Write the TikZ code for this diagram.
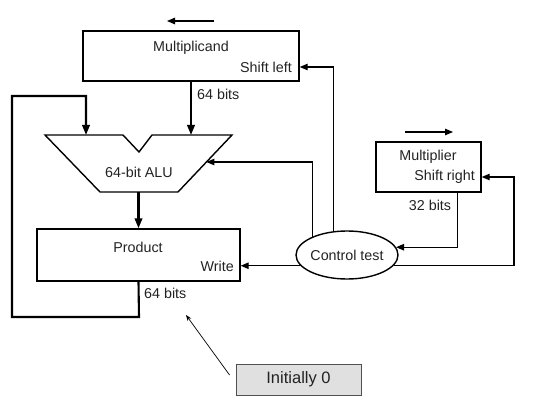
\documentclass[tikz,border=0pt]{standalone}
\usepackage{fontspec}
\setmainfont{Liberation Sans}
\usetikzlibrary{arrows.meta,shapes.geometric,calc}
\definecolor{txt}{HTML}{222222}
\definecolor{initfill}{HTML}{E0E0E0}
\definecolor{initdraw}{HTML}{505050}
\tikzset{
  lbl/.style={inner sep=0pt,text=txt,font=\fontsize{14.3}{16}\selectfont},
  reg/.style={draw,line width=1.4pt,inner sep=0pt},
  thickarrow/.style={line width=2.1pt,-{Triangle[length=10pt,width=7.5pt]}},
  ctlarrow/.style={line width=1.1pt,-{Triangle[length=8pt,width=6.5pt]}},
  notearrow/.style={line width=0.7pt,-{Stealth[length=6pt,width=4.5pt]}},
}
\begin{document}
\begin{tikzpicture}[x=1pt,y=-1pt]
\useasboundingbox (0,0) rectangle (547,404);
% registers
\node[reg,minimum width=216pt,minimum height=50pt] (mcand) at (191,56) {};
\node[reg,minimum width=203pt,minimum height=52pt] (product) at (138.5,255) {};
\node[reg,minimum width=105pt,minimum height=50pt] (mplier) at (428.5,167) {};
\node[draw,ellipse,line width=1.4pt,minimum width=102pt,minimum height=48pt,inner sep=0pt] (ctrl) at (347,255) {};
\node[draw=initdraw,line width=0.9pt,fill=initfill,minimum width=125pt,minimum height=31pt,inner sep=0pt,text=txt,font=\fontsize{16.5}{18}\selectfont] (init) at (298.5,379.5) {Initially 0};
% ALU
\draw[line width=1.4pt,line join=miter] (45,135) -- (123,135) -- (139,152) -- (152,135) -- (232,135) -- (178,192) -- (100,192) -- cycle;
\coordinate (alutop) at (139,135);
\coordinate (alubot) at (138.5,192);
\coordinate (aluR) at (206.4,162);
\node[lbl] (alulbl) at (139,172) {64-bit ALU};
% texts
\node[lbl] (t1) at (191,48) {Multiplicand};
\node[lbl,anchor=east] (t2) at (292,67) {Shift left};
\node[lbl] (t3) at (138,247) {Product};
\node[lbl,anchor=east] (t4) at (234,266) {Write};
\node[lbl] (t5) at (428,157) {Multiplier};
\node[lbl,anchor=east] (t6) at (475,177) {Shift right};
\node[lbl] (t7) at (347,255) {Control test};
\node[lbl,anchor=west] (b1) at (197,94) {64 bits};
\node[lbl,anchor=west] (b2) at (144,293) {64 bits};
\node[lbl] (b3) at (430,205) {32 bits};
% direction arrows
\coordinate (la1) at (214,21); \coordinate (la2) at (167,21);
\coordinate (ra1) at (405,132); \coordinate (ra2) at (453,132);
\draw[ctlarrow] (la1) -- (la2);
\draw[ctlarrow] (ra1) -- (ra2);
% datapath
\draw[thickarrow] (mcand.south) -- (mcand.south |- alutop);
\draw[thickarrow] (alubot) -- (product.north);
\coordinate (lp1) at (139,317); \coordinate (lp2) at (12,317);
\coordinate (lp3) at (12,96); \coordinate (lp4) at (86,96); \coordinate (lp5) at (86,135);
\draw[thickarrow,line join=miter] (product.south) -- (lp1) -- (lp2) -- (lp3) -- (lp4) -- (lp5);
% control
\draw[ctlarrow] (ctrl.119.5) |- ([yshift=-11pt]mcand.east);
\draw[ctlarrow] (ctrl.152) |- (aluR);
\draw[ctlarrow] (ctrl.193.6) -- (ctrl.193.6 -| product.east);
\coordinate (rr) at (514,177);
\draw[ctlarrow] (ctrl.-13.6) -| (rr) -- (rr -| mplier.east);
\draw[ctlarrow] ([xshift=-24pt]mplier.south east) |- (ctrl.9.4);
% note
\coordinate (tip) at (186,315);
\draw[notearrow] ($(init.west)+(-6,-4.5)$) -- (tip);
\end{tikzpicture}
\end{document}
